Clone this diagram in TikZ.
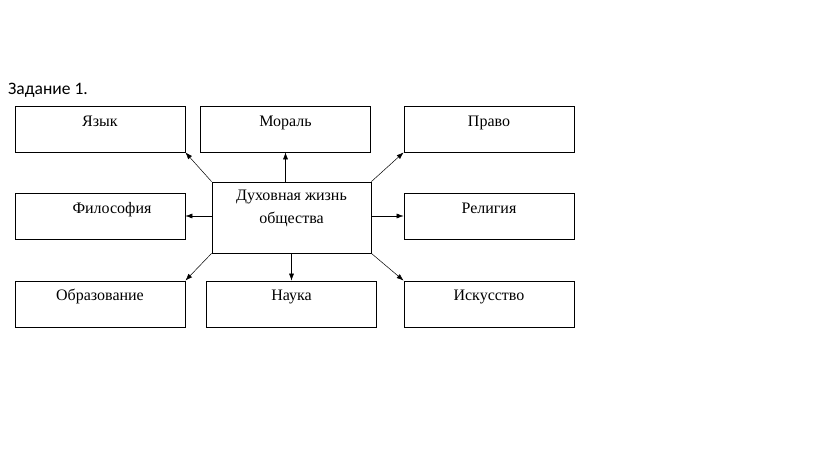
\documentclass[tikz,border=0pt]{standalone}
\usepackage{fontspec}
\usetikzlibrary{arrows.meta}
\setmainfont{Liberation Serif}
\newfontfamily\titlefont{Carlito}
\begin{document}
\begin{tikzpicture}[x=1pt,y=-1pt,
  box/.style={draw,line width=0.8pt,minimum width=170pt,minimum height=46pt,inner sep=0pt},
  lab/.style={font=\fontsize{16}{18}\selectfont},
  arr/.style={-{Latex[length=7pt,width=5pt]},line width=0.5pt}]
\useasboundingbox (0,0) rectangle (823,457);
\node[anchor=base west,inner sep=0pt,font=\titlefont\fontsize{17.5}{20}\selectfont] (title) at (8,95) {Задание 1.};
% boxes
\node[box] (yazyk) at (100,129) {};
\node[box] (moral) at (285.5,129) {};
\node[box] (pravo) at (489,129) {};
\node[box] (filos) at (100,216) {};
\node[box] (relig) at (489,216) {};
\node[box] (obraz) at (100,304) {};
\node[box] (nauka) at (291.5,304) {};
\node[box] (iskus) at (489,304) {};
\node[draw,line width=0.8pt,minimum width=159pt,minimum height=71pt,inner sep=0pt] (center) at (291.5,217.5) {};
% labels
\node[lab,anchor=base] (l1) at (100,127) {Язык};
\node[lab,anchor=base] (l2) at (285.5,127) {Мораль};
\node[lab,anchor=base] (l3) at (489,127) {Право};
\node[lab,anchor=base] (l4) at (112,214) {Философия};
\node[lab,anchor=base] (l5) at (489,214) {Религия};
\node[lab,anchor=base] (l6) at (100,301) {Образование};
\node[lab,anchor=base] (l7) at (291.5,301) {Наука};
\node[lab,anchor=base] (l8) at (489,301) {Искусство};
\node[lab,anchor=base] (c1) at (291.5,201) {Духовная жизнь};
\node[lab,anchor=base] (c2) at (291.5,224) {общества};
% arrows
\draw[arr] (center.north west) -- (yazyk.south east);
\draw[arr] (center.north -| moral.south) -- (moral.south);
\draw[arr] (center.north east) -- (pravo.south west);
\draw[arr] (center.west |- filos.east) -- (filos.east);
\draw[arr] (center.east |- relig.west) -- (relig.west);
\draw[arr] (center.south west) -- (obraz.north east);
\draw[arr] (center.south -| nauka.north) -- (nauka.north);
\draw[arr] (center.south east) -- (iskus.north west);
\end{tikzpicture}
\end{document}
